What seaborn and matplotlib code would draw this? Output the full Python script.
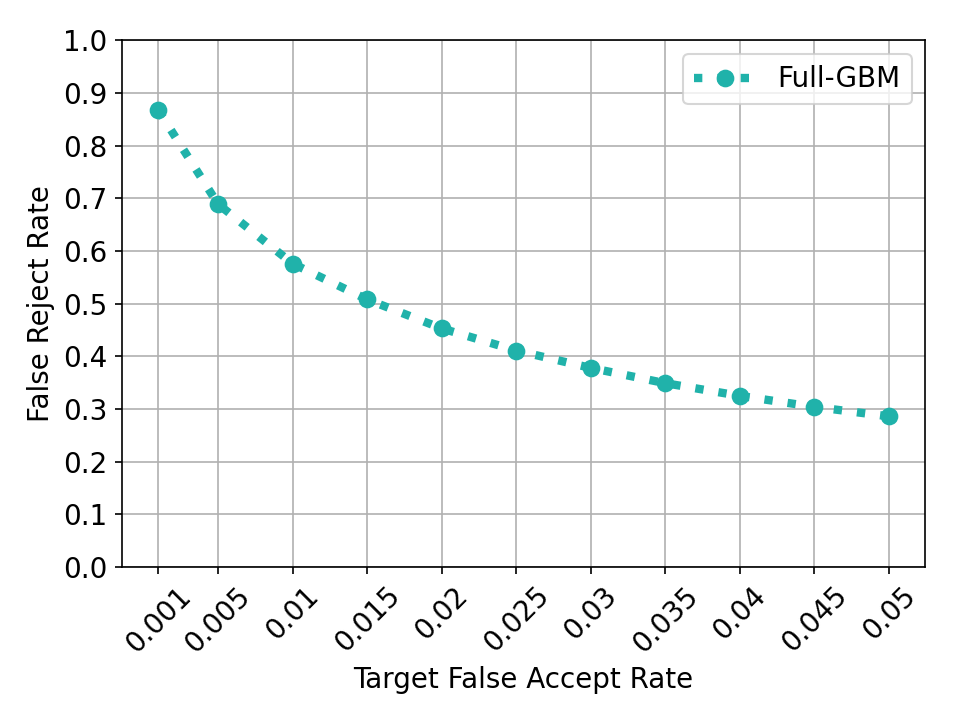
import pandas as pd
import matplotlib
matplotlib.use("Agg")
import matplotlib.pyplot as plt
import seaborn as sns

# dados
far = [0.001, 0.005, 0.01, 0.015, 0.02, 0.025, 0.03, 0.035, 0.04, 0.045, 0.05]
frr = [0.867, 0.689, 0.576, 0.508, 0.453, 0.411, 0.378, 0.349, 0.325, 0.304, 0.286]
tick_labels = ['0.001', '0.005', '0.01', '0.015', '0.02', '0.025', '0.03',
               '0.035', '0.04', '0.045', '0.05']

sns.set_style("ticks")
plt.rcParams['font.family'] = ['DejaVu Sans']
plt.rcParams['font.size'] = 13.3
plt.rcParams['text.color'] = 'black'
plt.rcParams['axes.labelcolor'] = 'black'
plt.rcParams['xtick.color'] = 'black'
plt.rcParams['ytick.color'] = 'black'

df = pd.DataFrame({'far': far, 'frr': frr})

fig, ax = plt.subplots(figsize=(6.4, 4.8), dpi=150)
sns.lineplot(x='far', y='frr', data=df, ax=ax, color='#20b2aa',
             linestyle=(0, (1, 1.8)), linewidth=4, marker='o', markersize=8.5,
             markeredgewidth=0, label='Full-GBM')

ax.set_ylim(0, 1.0)
ax.set_yticks([i / 10 for i in range(11)])
ax.set_xticks(far)
ax.set_xticklabels(tick_labels, rotation=45)
ax.grid(True, color='#b0b0b0', linewidth=0.8)
for s in ax.spines.values():
    s.set_color('black')
    s.set_linewidth(0.8)
ax.tick_params(colors='black', labelcolor='black', length=3.5, width=0.8)

ax.set_xlabel('Target False Accept Rate')
ax.set_ylabel('False Reject Rate')
ax.legend(loc='upper right', framealpha=0.8, edgecolor='#cccccc', fontsize=13.3,
          handlelength=2.2)

plt.subplots_adjust(left=0.127, right=0.964, top=0.944, bottom=0.2125)
plt.savefig('out.png', dpi=150)
